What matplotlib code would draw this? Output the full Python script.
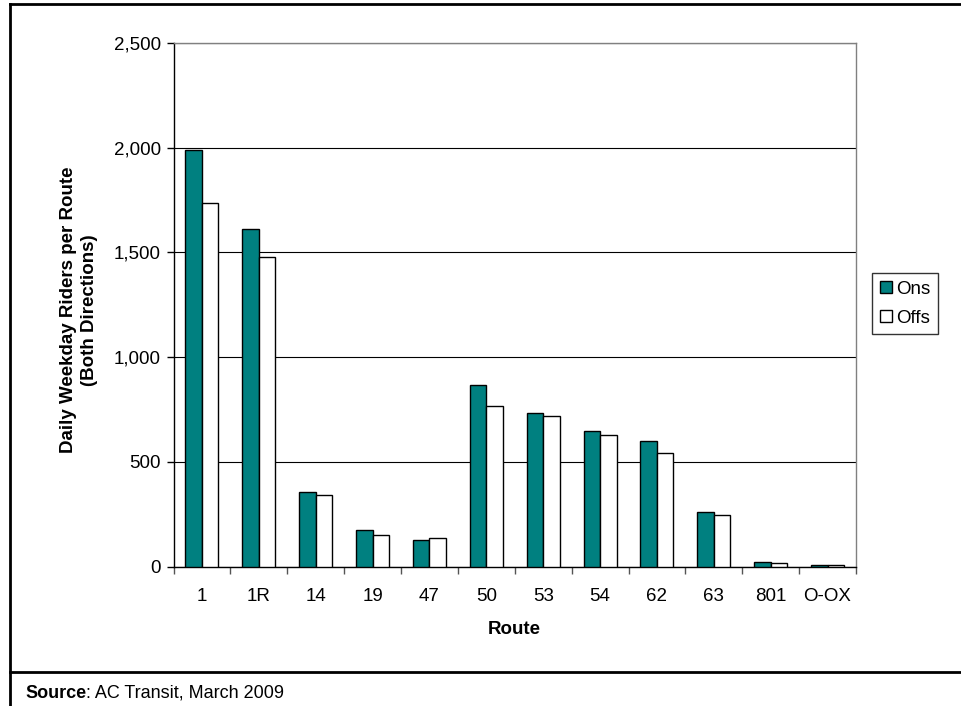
import numpy as np
import matplotlib
matplotlib.use("Agg")
import matplotlib.pyplot as plt
from matplotlib.lines import Line2D

plt.rcParams['font.family'] = ['Liberation Sans', 'DejaVu Sans']

# riders per route
routes = ["1", "1R", "14", "19", "47", "50", "53", "54", "62", "63", "801", "O-OX"]
ons = [1988, 1610, 358, 174, 129, 865, 733, 649, 599, 260, 22, 8]
offs = [1738, 1480, 344, 151, 137, 767, 720, 628, 542, 247, 16, 7]
yticks = [0, 500, 1000, 1500, 2000, 2500]

W, H = 961, 706
fig = plt.figure(figsize=(W / 100, H / 100), dpi=100)
ax = fig.add_axes([173.5 / W, 1 - 566.7 / H, (856 - 173.5) / W, (566.7 - 43) / H])

x = np.arange(len(routes))
bw = 0.29
b1 = ax.bar(x - bw / 2, ons, bw, color="#008080", edgecolor="black", linewidth=1.0, label="Ons", zorder=3)
b2 = ax.bar(x + bw / 2, offs, bw, color="white", edgecolor="black", linewidth=1.0, label="Offs", zorder=3)

ax.set_xlim(-0.5, len(routes) - 0.5)
ax.set_ylim(0, 2500)
ax.set_yticks(yticks)
ax.set_yticklabels([f"{v:,}" for v in yticks])
ax.yaxis.grid(True, color="black", linewidth=0.8, zorder=0)
ax.set_axisbelow(True)

# ticks between the categories, labels at centres
ax.set_xticks(np.arange(len(routes) + 1) - 0.5)
ax.set_xticklabels([])
ax.set_xticks(x, minor=True)
ax.set_xticklabels(routes, minor=True)
ax.tick_params(axis="x", which="minor", length=0, pad=15, labelsize=13.5)
ax.tick_params(axis="x", which="major", direction="out", length=5, width=1, color="#555555")
ax.tick_params(axis="y", direction="out", length=5, width=1, labelsize=13.5, pad=4)

for s in ["left", "bottom"]:
    ax.spines[s].set_color("black")
    ax.spines[s].set_linewidth(1.0)
for s in ["right", "top"]:
    ax.spines[s].set_color("#808080")
    ax.spines[s].set_linewidth(1.0)

fig.text(514 / W, 1 - 630 / H, "Route", ha="center", va="center", fontsize=13.5, fontweight="bold")
fig.text(79 / W, 1 - 310 / H, "Daily Weekday Riders per Route\n(Both Directions)", ha="center", va="center",
         rotation=90, fontsize=13.5, fontweight="bold", linespacing=1.25)

leg = fig.legend(handles=[b1, b2], loc="upper left", bbox_to_anchor=(872 / W, 1 - 273 / H),
                 fontsize=13.5, frameon=True, fancybox=False, edgecolor="black",
                 handlelength=0.65, handleheight=0.65, handletextpad=0.25, borderpad=0.4,
                 labelspacing=0.65, borderaxespad=0)
leg.get_frame().set_linewidth(1.0)

# outer box lines
fig.add_artist(Line2D([10 / W, 10 / W], [0, 1 - 4 / H], color="black", linewidth=2))
fig.add_artist(Line2D([10 / W, 1], [1 - 4 / H, 1 - 4 / H], color="black", linewidth=2))
fig.add_artist(Line2D([10 / W, 1], [1 - 672 / H, 1 - 672 / H], color="black", linewidth=2))

t1 = fig.text(25 / W, 1 - 693 / H, "Source", ha="left", va="center", fontsize=13, fontweight="bold")
fig.canvas.draw()
bb = t1.get_window_extent(fig.canvas.get_renderer())
fig.text(bb.x1 / W, 1 - 693 / H, ": AC Transit, March 2009", ha="left", va="center", fontsize=13)

fig.savefig("out.png", dpi=100)
